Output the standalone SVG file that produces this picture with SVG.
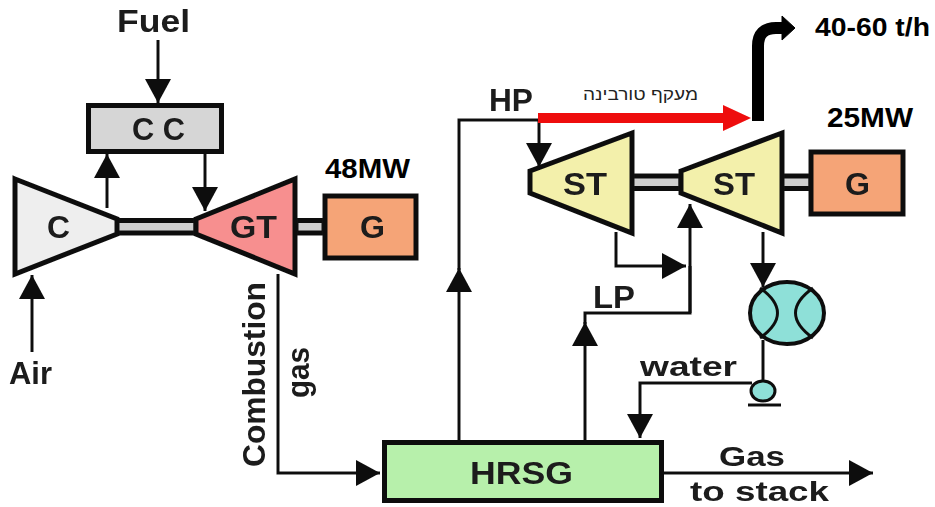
<svg xmlns="http://www.w3.org/2000/svg" width="935" height="507" viewBox="0 0 935 507">
  <style>
    .n { stroke: #111; stroke-width: 5; stroke-linejoin: miter; }
    .shaft { fill: #cfcfcf; stroke: #111; stroke-width: 5; }
    .c { fill: none; stroke: #111; stroke-width: 3; }
    .t { font-family: "Liberation Sans", Arial, sans-serif; font-weight: 700; fill: #1a1a1a; font-size: 27px; }
    .big { font-size: 31px; }
    .k { font-family: "Liberation Sans", Arial, sans-serif; font-weight: 700; fill: #000; }
    .soft { filter: url(#soft); }
  </style>
  <defs>
    <filter id="soft" x="-5%" y="-5%" width="110%" height="110%"><feGaussianBlur stdDeviation="0.6"/></filter>
    <marker id="ah" markerUnits="userSpaceOnUse" markerWidth="26" markerHeight="28" refX="24" refY="13" orient="auto">
      <path d="M0 0L24 13L0 26Z" fill="#111"/>
    </marker>
  </defs>
  <rect width="935" height="507" fill="#fff"/>

  <g id="connectors" class="soft">
    <path class="c" d="M158 40V103" marker-end="url(#ah)"/>
    <path class="c" d="M107 208V154" marker-end="url(#ah)"/>
    <path class="c" d="M205 153V211" marker-end="url(#ah)"/>
    <path class="c" d="M32 352V275" marker-end="url(#ah)"/>
    <path class="c" d="M278 274V473H380" marker-end="url(#ah)"/>
    <path class="c" d="M459 440V268" marker-end="url(#ah)"/>
    <path class="c" d="M459 270V120H540"/>
    <path class="c" d="M539 120V167" marker-end="url(#ah)"/>
    <path class="c" d="M616 232V266H686" marker-end="url(#ah)"/>
    <path class="c" d="M690 313V204" marker-end="url(#ah)"/>
    <path class="c" d="M585 440V322" marker-end="url(#ah)"/>
    <path class="c" d="M585 324V313H690V266"/>
    <path class="c" d="M763 232V287" marker-end="url(#ah)"/>
    <path class="c" d="M763 340V384"/>
    <path class="c" d="M752 383H640V438" marker-end="url(#ah)"/>
    <path class="c" d="M664 473H873" marker-end="url(#ah)"/>
    <path d="M538 118H726" fill="none" stroke="#ee0a0a" stroke-width="10"/>
    <path d="M723 105L751 118L723 131Z" fill="#ee0a0a"/>
    <path d="M758 121V46Q758 28 776 28H784" fill="none" stroke="#000" stroke-width="12"/>
    <path d="M782 16L795 28L782 40Z" fill="#000" stroke="#000" stroke-width="1"/>
  </g>

  <g id="shafts" class="soft">
    <rect class="shaft" x="116" y="220.500" width="80" height="12.500"/>
    <rect class="shaft" x="296" y="220.500" width="28" height="12.500"/>
    <rect class="shaft" x="631" y="176" width="50" height="12.500"/>
    <rect class="shaft" x="781" y="176" width="30" height="12.500"/>
  </g>

  <g id="node-fuel"><text class="t big soft" x="117" y="32" textLength="73" lengthAdjust="spacingAndGlyphs">Fuel</text></g>

  <g id="node-cc" class="soft">
    <rect class="n" x="88.500" y="105.500" width="133" height="46" fill="#d6d6d6"/>
    <text class="t big" x="132" y="140" textLength="53" lengthAdjust="spacingAndGlyphs">C C</text>
  </g>

  <g id="node-c" class="soft">
    <path class="n" d="M15 179L117 219V234L15 274Z" fill="#eeeeee"/>
    <text class="t big" x="47" y="238" textLength="23" lengthAdjust="spacingAndGlyphs">C</text>
  </g>

  <g id="node-gt" class="soft">
    <path class="n" d="M196 219L295 179V274L196 234Z" fill="#f78f8f"/>
    <text class="t big" x="230" y="238" textLength="47" lengthAdjust="spacingAndGlyphs">GT</text>
  </g>

  <g id="node-g1" class="soft">
    <rect class="n" x="325" y="196" width="91" height="62" fill="#f5a477"/>
    <text class="t big" x="360" y="238" textLength="25" lengthAdjust="spacingAndGlyphs">G</text>
  </g>
  <text class="k" x="325" y="178" font-size="27" textLength="85" lengthAdjust="spacingAndGlyphs">48MW</text>

  <g id="node-st1" class="soft">
    <path class="n" d="M530 171L632 133V233L530 193Z" fill="#f3f0ab"/>
    <text class="t big" x="563" y="195" textLength="44" lengthAdjust="spacingAndGlyphs">ST</text>
  </g>

  <g id="node-st2" class="soft">
    <path class="n" d="M681 171L782 133V233L681 193Z" fill="#f3f0ab"/>
    <text class="t big" x="713" y="195" textLength="42" lengthAdjust="spacingAndGlyphs">ST</text>
  </g>

  <g id="node-g2" class="soft">
    <rect class="n" x="811" y="152" width="92" height="62" fill="#f5a477"/>
    <text class="t big" x="845" y="195" textLength="25" lengthAdjust="spacingAndGlyphs">G</text>
  </g>
  <text class="k" x="827" y="127" font-size="27" textLength="86" lengthAdjust="spacingAndGlyphs">25MW</text>
  <text class="k" x="815" y="36" font-size="26" textLength="115" lengthAdjust="spacingAndGlyphs">40-60 t/h</text>

  <g id="node-condenser" class="soft">
    <ellipse cx="787" cy="313" rx="37" ry="31" fill="#8ee0d8" stroke="#111" stroke-width="4"/>
    <path d="M760 288Q795 313 760 338M813 288Q778 313 813 338" fill="none" stroke="#111" stroke-width="3"/>
  </g>

  <g id="node-pump" class="soft">
    <ellipse cx="763" cy="391" rx="12" ry="10" fill="#8ee0d8" stroke="#111" stroke-width="3"/>
    <path d="M748 405H781" stroke="#111" stroke-width="3"/>
  </g>

  <g id="node-hrsg" class="soft">
    <rect class="n" x="384.500" y="442.500" width="277" height="58" fill="#b7f0ab"/>
    <text class="t big" x="470" y="484" textLength="103" lengthAdjust="spacingAndGlyphs">HRSG</text>
  </g>

  <g id="labels">
    <g class="soft">
      <text class="t big" x="9" y="384" textLength="43" lengthAdjust="spacingAndGlyphs">Air</text>
      <text class="t big" x="489" y="111" textLength="44" lengthAdjust="spacingAndGlyphs">HP</text>
      <text class="t big" x="593" y="308" textLength="42" lengthAdjust="spacingAndGlyphs">LP</text>
      <text class="t" x="640" y="376" textLength="97" lengthAdjust="spacingAndGlyphs">water</text>
      <text class="t" x="719" y="466" textLength="66" lengthAdjust="spacingAndGlyphs">Gas</text>
      <text class="t" x="690" y="501" textLength="139" lengthAdjust="spacingAndGlyphs">to stack</text>
      <text class="t big" transform="translate(265 467) rotate(-90)" x="0" y="0" textLength="185" lengthAdjust="spacingAndGlyphs">Combustion</text>
      <text class="t big" transform="translate(309 398) rotate(-90)" x="0" y="0" textLength="51" lengthAdjust="spacingAndGlyphs">gas</text>
    </g>
    <text x="698" y="100" direction="rtl" text-anchor="start" font-family="'Liberation Sans', Arial, sans-serif" font-size="16" fill="#222" textLength="115" lengthAdjust="spacingAndGlyphs">מעקף טורבינה</text>
  </g>
</svg>
